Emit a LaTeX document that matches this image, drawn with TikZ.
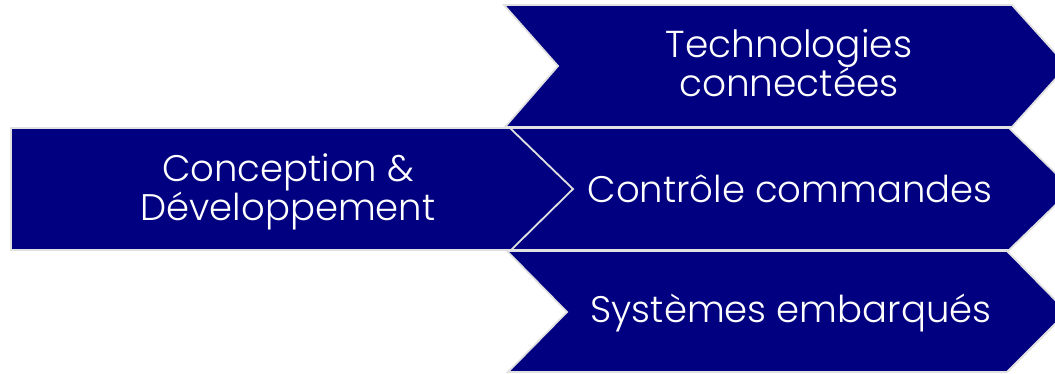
\documentclass[tikz,border=0pt]{standalone}
\usepackage{fontspec}
\setmainfont{Poppins}[UprightFont=* Light]
\definecolor{navyfill}{RGB}{0,0,128}
\definecolor{edgegray}{RGB}{225,225,225}
\tikzset{
  shapebox/.style={fill=navyfill, draw=edgegray, line width=1.8pt, line join=miter},
  bigtext/.style={text=white, font=\fontsize{37}{38}\selectfont, align=center, inner sep=0pt},
  techtext/.style={text=white, font=\fontsize{37.5}{39}\selectfont, align=center, inner sep=0pt}
}
\begin{document}
\begin{tikzpicture}[x=1pt,y=-1pt]
\useasboundingbox (0,0) rectangle (1055,373);
\begin{scope}
\clip (0,0) rectangle (1055,373);
% top chevron
\draw[shapebox] (504,5) -- (1012,5) -- (1067,66) -- (1012,127) -- (505,127) -- (558,66) -- cycle;
% bottom chevron
\draw[shapebox] (507,251) -- (1007,251) -- (1067,312) -- (1007,372) -- (508,372) -- (567,312) -- cycle;
% left rectangle
\draw[shapebox] (11,128) rectangle (590,250);
% middle chevron
\draw[shapebox] (510,128) -- (1009,128) -- (1072,189) -- (1009,250) -- (511,250) -- (573,189) -- cycle;
\end{scope}
\node[techtext] (tech) at (789,63) {Technologies\\connectées};
\node[bigtext] (conc) at (288,192) {Conception \&\\Développement};
\node[bigtext, anchor=base] (ctrl) at (790,202) {Contrôle commandes};
\node[bigtext, anchor=base] (syst) at (791,322) {Systèmes embarqués};
\end{tikzpicture}
\end{document}
